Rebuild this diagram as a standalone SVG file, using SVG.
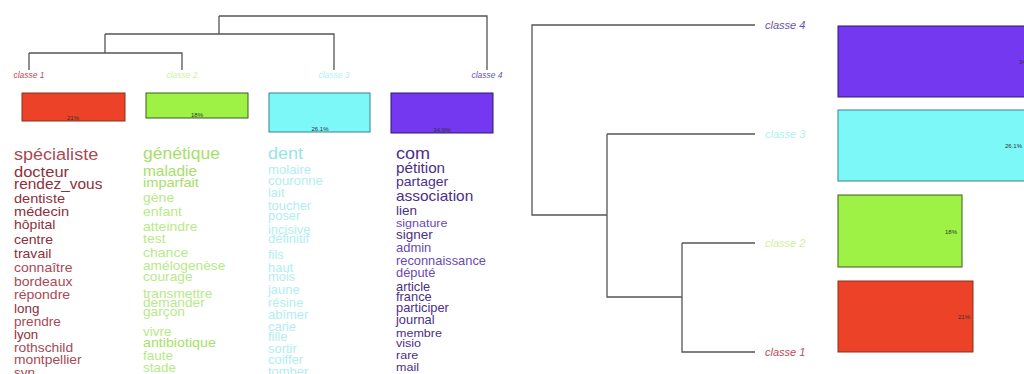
<svg xmlns="http://www.w3.org/2000/svg" width="1024" height="374" viewBox="0 0 1024 374">
<style>
.t{font-family:"Liberation Sans",Arial,sans-serif}
.lbl{font-family:"Liberation Sans",Arial,sans-serif;font-style:italic}
.ln{fill:none;stroke:#555;stroke-width:1.3}
.pc{font-family:"Liberation Sans",Arial,sans-serif;font-size:6px;fill:#333}
.c1{fill:#8e2f3a}.c1b{fill:#a84a55}
.c2{fill:#a6e06a}.c2b{fill:#b8ea88}
.c3{fill:#96e4e6}.c3b{fill:#b2eef0}
.c4{fill:#4b2f86}.c4b{fill:#6a4ab0}
</style>
<rect width="1024" height="374" fill="#fff"/>
<g id="connectors">
<path class="ln" d="M219,16 H487 V70 M219,16 V34 M105,34 H334 V70 M105,34 V53 M29,53 H182 V70 M29,53 V70"/>
<path class="ln" d="M755,25 H532 V215 H607 M607,134 H755 M607,134 V297 H682 M682,243 H755 M682,243 V352 H755"/>
</g>
<g id="left-labels" font-size="8.5">
<text class="lbl" x="29" y="78" text-anchor="middle" fill="#c04a5a">classe  1</text>
<text class="lbl" x="182" y="78" text-anchor="middle" fill="#cdf29c">classe  2</text>
<text class="lbl" x="334" y="78" text-anchor="middle" fill="#b0f0f2">classe  3</text>
<text class="lbl" x="487" y="78" text-anchor="middle" fill="#6a52a8">classe  4</text>
</g>
<g id="left-bars">
<rect x="22" y="93" width="103" height="28" fill="#ec4227" stroke="#8a3020" stroke-width="1"/>
<text class="pc" x="73" y="120" text-anchor="middle">21%</text>
<rect x="146" y="93" width="102" height="25" fill="#9ef245" stroke="#3e5a22" stroke-width="1"/>
<text class="pc" x="197" y="117" text-anchor="middle">18%</text>
<rect x="269" y="93" width="101" height="39" fill="#7df8f8" stroke="#3a8090" stroke-width="1"/>
<text class="pc" x="320" y="131" text-anchor="middle">26.1%</text>
<rect x="391" y="93" width="102" height="40" fill="#7438f0" stroke="#2a1a70" stroke-width="1"/>
<text class="pc" x="442" y="132" text-anchor="middle">34.9%</text>
</g>
<g id="words-classe1" class="t" transform="translate(14,0) scale(1.08,1)">
<text class="c1b" x="0" y="160" font-size="16.7">spécialiste</text>
<text class="c1" x="0" y="177" font-size="15.3">docteur</text>
<text class="c1" x="0" y="189" font-size="14.3">rendez_vous</text>
<text class="c1" x="0" y="203" font-size="13.5">dentiste</text>
<text class="c1" x="0" y="216" font-size="13.5">médecin</text>
<text class="c1" x="0" y="229" font-size="13">hôpital</text>
<text class="c1" x="0" y="244" font-size="13">centre</text>
<text class="c1" x="0" y="258" font-size="13">travail</text>
<text class="c1b" x="0" y="272" font-size="13">connaître</text>
<text class="c1b" x="0" y="286" font-size="13">bordeaux</text>
<text class="c1b" x="0" y="299" font-size="13">répondre</text>
<text class="c1" x="0" y="313" font-size="12.5">long</text>
<text class="c1b" x="0" y="326" font-size="12.6">prendre</text>
<text class="c1" x="0" y="339" font-size="12.2">lyon</text>
<text class="c1b" x="0" y="352" font-size="12.8">rothschild</text>
<text class="c1b" x="0" y="364" font-size="12.8">montpellier</text>
<text class="c1b" x="0" y="377" font-size="12.5">syn</text>
</g>
<g id="words-classe2" class="t" transform="translate(143,0) scale(1.08,1)">
<text class="c2" x="0" y="159" font-size="16.2">génétique</text>
<text class="c2" x="0" y="176" font-size="14.3">maladie</text>
<text class="c2" x="0" y="187" font-size="13.5">imparfait</text>
<text class="c2b" x="0" y="202" font-size="13">gène</text>
<text class="c2b" x="0" y="216" font-size="13">enfant</text>
<text class="c2b" x="0" y="231" font-size="13">atteindre</text>
<text class="c2b" x="0" y="243" font-size="13">test</text>
<text class="c2b" x="0" y="257" font-size="13">chance</text>
<text class="c2b" x="0" y="270" font-size="12.7">amélogenèse</text>
<text class="c2b" x="0" y="281" font-size="12.7">courage</text>
<text class="c2b" x="0" y="298" font-size="12.7">transmettre</text>
<text class="c2b" x="0" y="307" font-size="12.7">demander</text>
<text class="c2b" x="0" y="316" font-size="12.7">garçon</text>
<text class="c2b" x="0" y="336" font-size="12.5">vivre</text>
<text class="c2" x="0" y="347" font-size="13.2">antibiotique</text>
<text class="c2b" x="0" y="360" font-size="12.5">faute</text>
<text class="c2b" x="0" y="372" font-size="12.5">stade</text>
</g>
<g id="words-classe3" class="t" transform="translate(268,0) scale(1.08,1)">
<text class="c3" x="0" y="159" font-size="16.7">dent</text>
<text class="c3b" x="0" y="174" font-size="12.2">molaire</text>
<text class="c3b" x="0" y="185" font-size="12.2">couronne</text>
<text class="c3b" x="0" y="197" font-size="12">lait</text>
<text class="c3b" x="0" y="210" font-size="12">toucher</text>
<text class="c3b" x="0" y="220" font-size="12">poser</text>
<text class="c3b" x="0" y="234" font-size="12">incisive</text>
<text class="c3b" x="0" y="243" font-size="12">définitif</text>
<text class="c3b" x="0" y="259" font-size="12">fils</text>
<text class="c3b" x="0" y="272" font-size="12">haut</text>
<text class="c3b" x="0" y="281" font-size="12">mois</text>
<text class="c3b" x="0" y="294" font-size="12">jaune</text>
<text class="c3b" x="0" y="307" font-size="12">résine</text>
<text class="c3b" x="0" y="319" font-size="12">abîmer</text>
<text class="c3b" x="0" y="331" font-size="12">carie</text>
<text class="c3b" x="0" y="341" font-size="12">fille</text>
<text class="c3b" x="0" y="353" font-size="12">sortir</text>
<text class="c3b" x="0" y="364" font-size="12">coiffer</text>
<text class="c3b" x="0" y="376" font-size="12">tomber</text>
</g>
<g id="words-classe4" class="t" transform="translate(396,0) scale(1.08,1)">
<text class="c4" x="0" y="159" font-size="16.7">com</text>
<text class="c4" x="0" y="173" font-size="14.1">pétition</text>
<text class="c4" x="0" y="186" font-size="13">partager</text>
<text class="c4" x="0" y="201" font-size="14.3">association</text>
<text class="c4" x="0" y="215" font-size="12.5">lien</text>
<text class="c4b" x="0" y="227" font-size="11.6">signature</text>
<text class="c4" x="0" y="239" font-size="12.5">signer</text>
<text class="c4b" x="0" y="252" font-size="12">admin</text>
<text class="c4b" x="0" y="265" font-size="11.9">reconnaissance</text>
<text class="c4b" x="0" y="277" font-size="11.9">député</text>
<text class="c4" x="0" y="291" font-size="11.9">article</text>
<text class="c4" x="0" y="301" font-size="11.9">france</text>
<text class="c4" x="0" y="312" font-size="11.9">participer</text>
<text class="c4" x="0" y="324" font-size="11.9">journal</text>
<text class="c4" x="0" y="337" font-size="11.6">membre</text>
<text class="c4" x="0" y="347" font-size="11.6">visio</text>
<text class="c4" x="0" y="359" font-size="11.6">rare</text>
<text class="c4" x="0" y="371" font-size="11.6">mail</text>
</g>
<g id="right-labels" font-size="11">
<text class="lbl" x="765" y="29" fill="#6a52a8">classe  4</text>
<text class="lbl" x="765" y="138" fill="#b0f0f2">classe  3</text>
<text class="lbl" x="765" y="247" fill="#cdf29c">classe  2</text>
<text class="lbl" x="765" y="356" fill="#c04a5a">classe  1</text>
</g>
<g id="right-bars">
<rect x="838" y="26" width="200" height="71" fill="#7438f0" stroke="#2a1a70" stroke-width="1"/>
<text class="pc" x="1036" y="64" text-anchor="end">34.9%</text>
<rect x="838" y="110" width="200" height="71" fill="#7df8f8" stroke="#3a8090" stroke-width="1"/>
<text class="pc" x="1022" y="148" text-anchor="end">26.1%</text>
<rect x="838" y="195" width="124" height="72" fill="#9ef245" stroke="#3e5a22" stroke-width="1"/>
<text class="pc" x="957" y="234" text-anchor="end">18%</text>
<rect x="838" y="281" width="135" height="71" fill="#ec4227" stroke="#8a3020" stroke-width="1"/>
<text class="pc" x="970" y="319" text-anchor="end">21%</text>
</g>
</svg>
